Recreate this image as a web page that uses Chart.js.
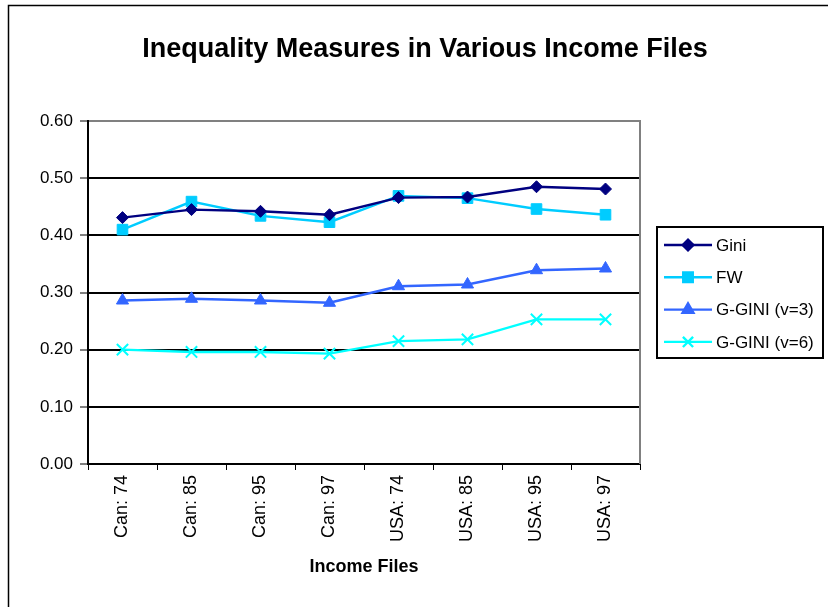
<!DOCTYPE html>
<html>
<head>
<meta charset="utf-8">
<script src="https://cdn.jsdelivr.net/npm/chart.js@4.4.1/dist/chart.umd.min.js"></script>
<style>
  html, body { margin: 0; padding: 0; background: #fff; }
  #wrap { width: 828px; height: 607px; position: relative; }
</style>
</head>
<body>
<div id="wrap"><canvas id="ineqChart"></canvas></div>
<script>
// values
const incomeFiles = ['Can: 74', 'Can: 85', 'Can: 95', 'Can: 97', 'USA: 74', 'USA: 85', 'USA: 95', 'USA: 97'];
const gini = [0.431, 0.445, 0.442, 0.436, 0.466, 0.467, 0.485, 0.481];
const fw = [0.410, 0.459, 0.434, 0.423, 0.469, 0.465, 0.446, 0.436];
const ggini3 = [0.286, 0.289, 0.286, 0.282, 0.311, 0.314, 0.339, 0.342];
const ggini6 = [0.200, 0.196, 0.196, 0.193, 0.215, 0.218, 0.253, 0.253];
const yTicks = [0, 0.1, 0.2, 0.3, 0.4, 0.5, 0.6];

const chartTitle = 'Inequality Measures in Various Income Files';
const FONT = "'Liberation Sans', Arial, sans-serif";

function series(label, data, color, style, radius, bw) {
    return {
        label: label,
        data: data,
        borderColor: color,
        backgroundColor: color,
        borderWidth: 2.4,
        pointStyle: style,
        pointRadius: radius,
        pointBorderWidth: bw,
        pointBackgroundColor: color,
        pointBorderColor: color,
        tension: 0
    };
}

// outer frame, title over the whole frame, grey right edge of plot, boxed legend
const framePlugin = {
    id: 'frame',
    afterDraw(chart) {
        const ctx = chart.ctx;
        const a = chart.chartArea;
        ctx.save();
        ctx.strokeStyle = '#000';
        ctx.lineWidth = 1.5;
        ctx.strokeRect(8.5, 5.5, chart.width + 10, chart.height + 10);

        ctx.fillStyle = '#000';
        ctx.font = 'bold 27px ' + FONT;
        ctx.textAlign = 'center';
        ctx.textBaseline = 'middle';
        ctx.fillText(chartTitle, 425, 50);

        ctx.strokeStyle = '#808080';
        ctx.lineWidth = 2;
        ctx.beginPath();
        ctx.moveTo(a.right, a.top - 1);
        ctx.lineTo(a.right, a.bottom);
        ctx.stroke();

        // legend
        const bx = a.right + 17, bw = 166, bh = 131;
        const by = (a.top + a.bottom) / 2 - bh / 2;
        ctx.strokeStyle = '#000';
        ctx.lineWidth = 2;
        ctx.strokeRect(bx, by, bw, bh);
        ctx.font = '17px ' + FONT;
        ctx.textBaseline = 'middle';
        ctx.textAlign = 'left';
        chart.data.datasets.forEach((ds, i) => {
            const y = by + 18 + i * 32.3;
            ctx.strokeStyle = ds.borderColor;
            ctx.lineWidth = 2.4;
            ctx.beginPath();
            ctx.moveTo(bx + 7, y);
            ctx.lineTo(bx + 55, y);
            ctx.stroke();
            ctx.fillStyle = ds.borderColor;
            Chart.helpers.drawPoint(ctx, {
                pointStyle: ds.pointStyle,
                radius: ds.pointRadius * 0.9,
                borderWidth: ds.pointBorderWidth,
                rotation: 0
            }, bx + 31, y);
            ctx.fillStyle = '#000';
            ctx.fillText(ds.label, bx + 59, y + 1);
        });
        ctx.restore();
    }
};

const ctx = document.getElementById('ineqChart').getContext('2d');
const ineqChart = new Chart(ctx, {
    type: 'line',
    data: {
        labels: incomeFiles,
        datasets: [
            series('Gini', gini, '#000080', 'rectRot', 6, 1),
            series('FW', fw, '#00CCFF', 'rect', 7.5, 1),
            series('G-GINI (v=3)', ggini3, '#3366FF', 'triangle', 7, 1),
            series('G-GINI (v=6)', ggini6, '#00FFFF', 'crossRot', 8, 2)
        ]
    },
    options: {
        responsive: true,
        maintainAspectRatio: false,
        animation: false,
        events: [],
        layout: { padding: { left: 8, right: 188, top: 121, bottom: 0 } },
        plugins: {
            legend: { display: false },
            tooltip: { enabled: false },
            title: { display: false }
        },
        scales: {
            x: {
                offset: true,
                afterFit(scale) { scale.height = 143; },
                border: { color: '#000', width: 2 },
                grid: {
                    offset: true,
                    drawOnChartArea: false,
                    color: '#000',
                    lineWidth: 1,
                    tickLength: 6
                },
                ticks: {
                    color: '#000',
                    font: { family: FONT, size: 18 },
                    minRotation: 90,
                    maxRotation: 90,
                    padding: 5,
                    autoSkip: false
                },
                title: {
                    display: true,
                    text: 'Income Files',
                    color: '#000',
                    font: { family: FONT, size: 18, weight: 'bold', lineHeight: 1.2 },
                    padding: { top: 4, bottom: 29 }
                }
            },
            y: {
                min: 0,
                max: 0.6,
                afterFit(scale) { scale.width = 80; },
                afterBuildTicks(scale) { scale.ticks = yTicks.map(v => ({ value: v })); },
                border: { color: '#000', width: 2 },
                grid: {
                    color: c => (c.tick && c.tick.value === 0.6 ? '#808080' : '#000'),
                    lineWidth: 2,
                    tickWidth: 1,
                    tickColor: '#000',
                    tickLength: 8
                },
                ticks: {
                    color: '#000',
                    font: { family: FONT, size: 17 },
                    padding: 7,
                    callback: v => Number(v).toFixed(2)
                }
            }
        }
    },
    plugins: [framePlugin]
});
</script>
</body>
</html>
